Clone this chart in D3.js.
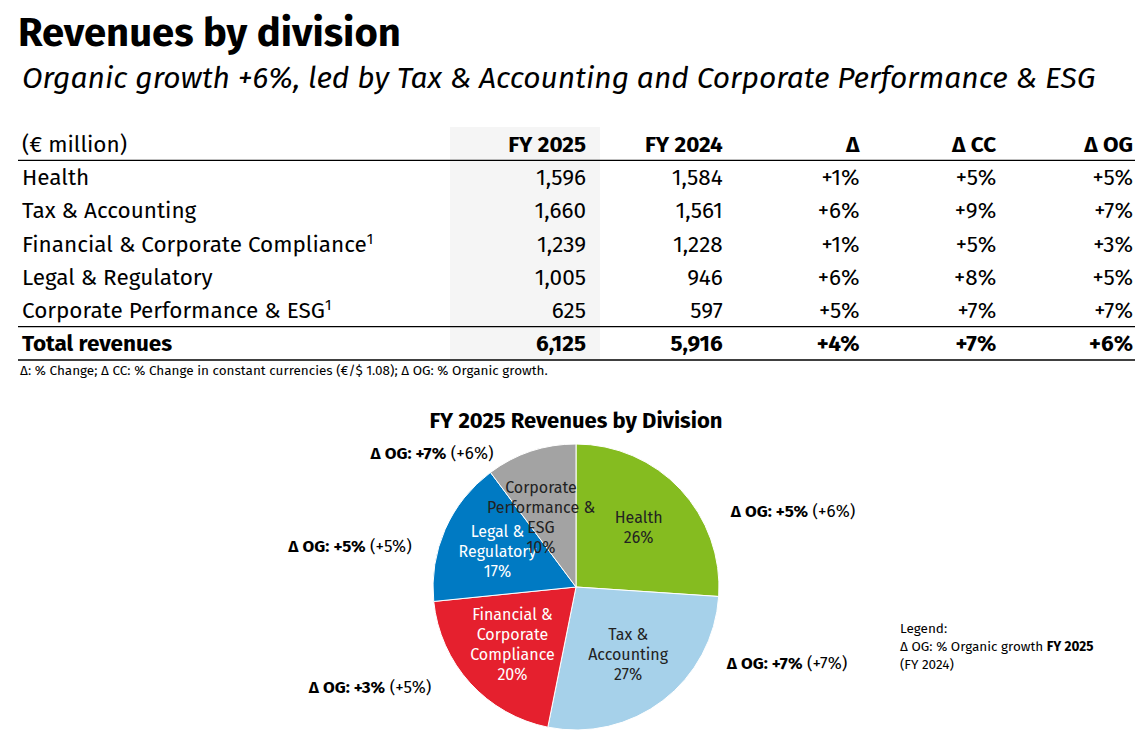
<!DOCTYPE html>
<html><head><meta charset="utf-8">
<script src="https://cdn.jsdelivr.net/npm/d3@7"></script>
<style>body{margin:0;background:#fff;font-family:"Fira Sans","Noto Sans","Open Sans",sans-serif;}</style>
</head><body><svg id="chart" width="1145" height="732"></svg>
<script>
const divisions = ["Health", "Tax & Accounting", "Financial & Corporate Compliance¹", "Legal & Regulatory", "Corporate Performance & ESG¹"];
const fy2025 = [1596, 1660, 1239, 1005, 625];
const fy2024 = [1584, 1561, 1228, 946, 597];
const delta = ["+1%", "+6%", "+1%", "+6%", "+5%"];
const deltaCC = ["+5%", "+9%", "+5%", "+8%", "+7%"];
const deltaOG = ["+5%", "+7%", "+3%", "+5%", "+7%"];
const total = ["6,125", "5,916", "+4%", "+7%", "+6%"];
const columns = ["FY 2025", "FY 2024", "Δ", "Δ CC", "Δ OG"];
const pieLabels = [["Health"], ["Tax &", "Accounting"], ["Financial &", "Corporate", "Compliance"], ["Legal &", "Regulatory"], ["Corporate", "Performance &", "ESG"]];
const piePct = ["26%", "27%", "20%", "17%", "10%"];
const pieColors = ["#85bc20", "#a6d1ea", "#e5202e", "#007ac3", "#a3a3a3"];
const ogFY2024 = ["+6%", "+7%", "+5%", "+5%", "+6%"];

const svg = d3.select("#chart");
const fmt = d3.format(",");

svg.append("text").attr("x", 18).attr("y", 46).attr("font-size", 40).attr("font-weight", 700).text("Revenues by division");
svg.append("text").attr("x", 22).attr("y", 88).attr("font-size", 30).attr("font-style", "italic").text("Organic growth +6%, led by Tax & Accounting and Corporate Performance & ESG");

// table
const fs = 22.5;
const colX = d3.scalePoint().domain(columns).range([586, 1133]);
const rowY = d3.scaleBand().domain(d3.range(7)).range([127, 360]);
svg.append("rect").attr("x", 450).attr("y", 127).attr("width", 150).attr("height", 233).attr("fill", "#f5f5f5");

const baseline = i => rowY(i) + rowY.bandwidth() / 2 + 8;
svg.append("text").attr("x", 22).attr("y", baseline(0)).attr("font-size", fs).text("(€ million)");
columns.forEach(c => svg.append("text").attr("x", colX(c)).attr("y", baseline(0)).attr("text-anchor", "end").attr("font-size", fs).attr("font-weight", 700).text(c));

divisions.forEach((d, i) => {
  const y = baseline(i + 1);
  const cells = [fmt(fy2025[i]), fmt(fy2024[i]), delta[i], deltaCC[i], deltaOG[i]];
  const t = svg.append("text").attr("x", 22).attr("y", y).attr("font-size", fs);
  if (d.endsWith("¹")) { t.text(d.slice(0, -1)); t.append("tspan").attr("font-size", 15).attr("dy", -8).text("1"); }
  else t.text(d);
  cells.forEach((v, j) => svg.append("text").attr("x", colX(columns[j])).attr("y", y).attr("text-anchor", "end").attr("font-size", fs).text(v));
});
const ty = baseline(6);
svg.append("text").attr("x", 22).attr("y", ty).attr("font-size", fs).attr("font-weight", 700).text("Total revenues");
total.forEach((v, j) => svg.append("text").attr("x", colX(columns[j])).attr("y", ty).attr("text-anchor", "end").attr("font-size", fs).attr("font-weight", 700).text(v));
[rowY(1), rowY(6), 360].forEach(y => svg.append("line").attr("x1", 18).attr("x2", 1135).attr("y1", y).attr("y2", y).attr("stroke", "#000").attr("stroke-width", 1.3));
svg.append("text").attr("x", 20).attr("y", 375).attr("font-size", 13.5).text("Δ: % Change; Δ CC: % Change in constant currencies (€/$ 1.08); Δ OG: % Organic growth.");

// pie
const cx = 576, cy = 587, r = 143;
svg.append("text").attr("x", cx).attr("y", 428).attr("text-anchor", "middle").attr("font-size", 22).attr("font-weight", 700).text("FY 2025 Revenues by Division");
const pie = d3.pie().sort(null).value(d => d)(fy2025);
const arc = d3.arc().innerRadius(0).outerRadius(r);
const g = svg.append("g").attr("transform", `translate(${cx},${cy})`);
g.selectAll("path").data(pie).join("path").attr("d", arc).attr("fill", (d, i) => pieColors[i]).attr("stroke", "#fff").attr("stroke-width", 1);
const inner = d3.arc().innerRadius(r * 0.6).outerRadius(r * 0.6);
pie.forEach((d, i) => {
  let [x, y] = inner.centroid(d);
  if (i === 4) { x -= 8; y += 12; }
  const lines = pieLabels[i].concat([piePct[i]]);
  const col = (i === 2 || i === 3) ? "#fff" : "#222";
  const t = g.append("text").attr("text-anchor", "middle").attr("font-size", 16).attr("fill", col);
  lines.forEach((l, k) => t.append("tspan").attr("x", x).attr("y", y + (k - (lines.length - 1) / 2) * 20 + 5).text(l));
});
// outer label placement offsets from pie centre
const labelOffset = [[217, -76], [211, 76], [-206, 100], [-226, -41], [-144, -134]];
pie.forEach((d, i) => {
  const [x, y] = labelOffset[i];
  const t = g.append("text").attr("x", x).attr("y", y + 6).attr("text-anchor", "middle").attr("font-size", 17);
  t.append("tspan").attr("font-weight", 700).text("Δ OG: " + deltaOG[i]);
  t.append("tspan").text(" (" + ogFY2024[i] + ")");
});

// legend
const lg = svg.append("text").attr("font-size", 13.5);
lg.append("tspan").attr("x", 900).attr("y", 633).text("Legend:");
lg.append("tspan").attr("x", 900).attr("y", 651).text("Δ OG: % Organic growth ");
lg.append("tspan").attr("font-weight", 700).text("FY 2025");
lg.append("tspan").attr("x", 900).attr("y", 669).text("(FY 2024)");
</script></body></html>
